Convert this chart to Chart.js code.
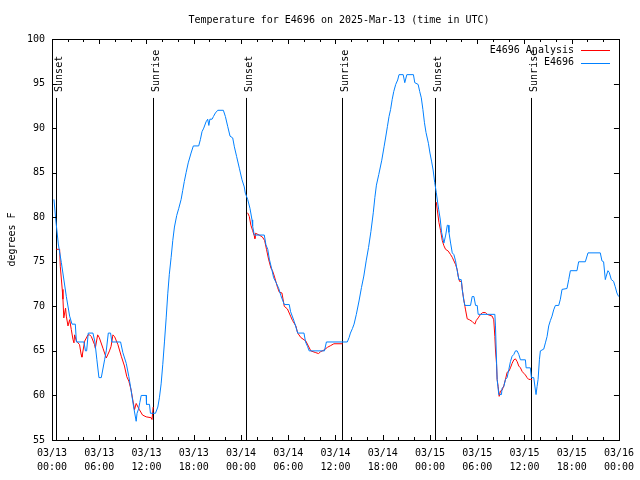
<!DOCTYPE html>
<html>
<head>
<meta charset="utf-8">
<script src="https://cdn.jsdelivr.net/npm/chart.js@4.4.0/dist/chart.umd.min.js"></script>
<style>
body { margin: 0; background: #ffffff; }
</style>
</head>
<body>
<canvas id="graph" width="640" height="480"></canvas>
<script>
// observed temperatures (E4696), hours after 03/13 00:00 UTC
const obsHours = [0.25,0.47,0.8,1.19,1.82,2.24,2.54,2.96,3.1,4.06,4.25,4.4,4.6,5.2,5.45,5.7,5.96,6.26,6.68,6.89,7.15,7.44,7.6,8.71,9.0,9.43,9.76,9.97,10.35,10.69,10.8,11.0,11.15,11.33,11.96,12.0,12.38,12.5,13.14,13.44,13.65,13.86,14.07,14.29,14.5,14.7,14.9,15.13,15.34,15.55,15.84,16.1,16.4,16.6,16.8,17.03,17.3,17.66,17.95,18.63,18.84,19.05,19.27,19.56,19.77,19.92,20.05,20.33,20.5,20.75,21.05,21.76,22.02,22.31,22.61,22.95,23.16,23.45,23.79,24.13,24.42,24.55,24.85,25.14,25.4,25.48,25.69,26.96,27.17,27.4,27.6,27.9,28.15,28.44,28.8,29.07,29.5,30.13,30.3,30.76,31.2,32.0,32.2,32.45,32.66,34.6,34.85,37.5,37.73,37.9,38.15,38.36,38.65,38.99,39.3,39.6,39.9,40.2,40.5,40.8,41.0,41.2,41.5,41.88,42.17,42.38,42.6,42.8,43.0,43.2,43.4,43.65,43.9,44.07,44.6,44.8,45.06,45.9,46.07,46.5,46.7,46.9,47.1,47.3,47.5,47.8,48.0,48.2,48.4,48.6,48.8,48.97,49.1,49.3,49.48,49.77,50.0,50.2,50.32,50.41,50.62,50.83,51.04,51.25,51.46,51.67,51.97,52.1,52.31,52.44,53.15,53.36,53.58,53.79,54.0,54.12,56.24,56.32,56.41,56.53,56.74,57.08,57.16,57.38,57.59,57.8,58.01,58.22,58.43,58.65,58.86,59.07,59.28,59.49,60.12,60.21,60.75,60.88,61.18,61.39,61.47,61.6,61.73,61.9,62.02,62.45,62.66,62.87,63.08,63.29,63.5,63.71,63.93,64.35,64.56,64.77,65.4,65.62,65.83,66.67,66.88,67.73,68.07,69.63,69.84,70.05,70.27,70.39,70.6,70.77,71.03,71.32,71.53,71.74,71.96];
const obsTemps = [82,79.8,77,74.9,71.1,68.9,68,68,66,66,65,65,67,67,66,64,62,62,64,65,67,67,66,66,64.8,63.6,62.1,61,58.8,57.1,58,58.5,59.2,60,60,59,59,58,58,58.7,59.8,61.3,63.5,66.1,68.7,71.4,73.6,75.5,77.4,78.9,80.2,81,82,83,84,85,86.1,87.2,88,88,88.7,89.6,90,90.7,91,90.3,91,91,91.3,91.7,92,92,91.3,90.2,89.1,88.9,87.9,86.8,85.5,84.2,83.4,82.7,82,81,79.7,79,78,78,76.9,76.4,75.3,74.2,73.2,72.7,72,71.2,70.2,70.2,69.4,68.3,67,67,66,65.5,65,65,66,66,66.5,67,67.5,68,69.1,70.6,72.1,73.4,75.1,76.6,78.4,80.5,82.2,83.6,84.8,86.4,87.9,89,90.2,91.3,92.1,93.2,94.1,94.9,95.4,96,96,95.1,96,96,95.1,94.9,94.1,93.4,92.1,90.6,89.5,88.3,87.2,86.3,85.3,83.9,82.8,81.7,80.9,79.8,78.3,77.1,78,79.1,79.1,78.3,77.1,76,75.8,75.1,74,73,73,71.9,70.6,70.1,70.1,71.1,71.1,70.1,70.1,69.1,69.1,67.8,65.1,61.8,60.1,60.1,60.8,61,61.8,62,62.9,63.8,64.4,64.6,65,65,64.6,64,64,63.1,63.1,62,62,60.6,60.1,61,61.8,64,65,65.2,65.9,66.6,67.8,68.4,68.9,69.6,70.1,70.1,70.8,71.9,72,73,74,74,75,75,76,76,75.1,75,73,73.4,74,73.8,73,72.8,72.2,71.5,71.1];

// analysis temperatures, null breaks between nights
const anaHours = [0.55,0.97,1.05,1.3,1.39,1.5,1.72,1.82,2.03,2.24,2.45,2.66,2.79,2.87,3.1,3.5,3.7,3.8,4.15,4.57,4.78,5.0,5.4,5.5,5.8,6.0,6.47,6.89,7.3,7.5,7.74,7.95,8.37,8.8,9.2,9.5,9.76,10.05,10.26,10.48,10.69,11.1,11.5,11.96,12.59,12.7,12.85,
  18,
  24.84,25.05,25.26,25.48,25.69,25.77,25.85,26.3,26.7,27.0,27.24,27.5,27.8,28.0,28.23,28.65,28.86,29.2,29.5,29.9,30.3,30.55,30.97,31.2,31.6,32.24,32.87,33.5,33.85,34.1,34.55,34.98,35.4,35.8,36.9,
  42,
  48.8,49.14,49.35,49.56,49.77,49.98,50.32,50.62,50.83,51.25,51.46,51.6,51.76,52.0,52.1,52.23,52.44,52.52,52.73,53.0,53.36,53.7,53.87,54.12,54.42,54.7,55.05,55.26,55.9,56.1,56.24,56.32,56.45,56.53,56.66,56.79,56.95,57.16,57.38,57.59,57.8,58.01,58.22,58.43,58.65,58.86,59.07,59.28,59.49,59.7,59.9,60.12,60.33,60.54,60.75,60.97];
const anaTemps = [76.4,76.4,74.5,71.9,70.8,68.7,69.8,68.9,67.8,68.5,67.4,66.3,65.9,66.8,66.1,65.7,64.6,64.3,66.1,66.8,66.8,66.6,65.7,65.3,66.8,66.5,65.3,64.2,65.0,65.5,66.8,66.6,65.7,64.4,63.3,62.1,61.6,60.6,59.5,58.4,59.1,58.4,57.8,57.6,57.5,57.3,58.7,
  null,
  80.5,80.1,79.1,78.5,77.9,77.6,78.2,78,77.8,77.4,76.4,75.3,74.3,74,73.4,72.1,71.6,71.5,70,69.7,68.9,68.4,67.8,67,66.5,66.1,65,64.8,64.7,64.9,65.1,65.4,65.6,65.8,65.8,
  null,
  81.7,79.4,78.5,77.4,76.8,76.4,76.2,75.8,75.5,74.7,74.1,73.3,72.8,72.8,71.9,71.1,70,69.6,68.6,68.5,68.3,68,68.4,68.7,69.1,69.3,69.3,69.1,68.9,68.5,66.6,65.1,63.6,61.8,61,59.9,60.5,60.6,61.1,61.8,62.6,62.7,63.1,63.6,64,64.1,63.8,63.3,63.1,62.7,62.5,62.3,62,61.8,61.8,61.8];

const sunHours = [0.55, 12.8, 24.6, 36.77, 48.67, 60.84];
const sunLabels = ["Sunset", "Sunrise", "Sunset", "Sunrise", "Sunset", "Sunrise"];
const dayLabels = ["03/13", "03/14", "03/15", "03/16"];

const FONT = "'DejaVu Sans Mono', monospace";
Chart.defaults.font.family = FONT;
Chart.defaults.font.size = 10;
Chart.defaults.color = "#000000";

const gnuplotFrame = {
    id: "gnuplotFrame",
    beforeDatasetsDraw(chart) {
        const ctx = chart.ctx, a = chart.chartArea, xs = chart.scales.x;
        ctx.save();
        ctx.strokeStyle = "#000000";
        ctx.lineWidth = 1;
        const lineTop = a.bottom - 0.853 * (a.bottom - a.top);
        sunHours.forEach((h, i) => {
            const px = Math.round(xs.getPixelForValue(h)) + 0.5;
            ctx.beginPath();
            ctx.moveTo(px, a.bottom);
            ctx.lineTo(px, lineTop);
            ctx.stroke();
            ctx.save();
            ctx.translate(px + 5, lineTop - 6);
            ctx.rotate(-Math.PI / 2);
            ctx.font = "10px " + FONT;
            ctx.fillStyle = "#000000";
            ctx.textAlign = "left";
            ctx.textBaseline = "alphabetic";
            ctx.fillText(sunLabels[i], 0, 0);
            ctx.restore();
        });
        ctx.restore();
    },
    afterDraw(chart) {
        const ctx = chart.ctx, a = chart.chartArea;
        const xs = chart.scales.x, ys = chart.scales.y;
        ctx.save();
        ctx.strokeStyle = "#000000";
        ctx.lineWidth = 1;
        // tics on all four sides, pointing inward
        ctx.beginPath();
        xs.ticks.forEach(t => {
            const px = Math.round(xs.getPixelForValue(t.value)) + 0.5;
            const len = Math.round(t.value) % 6 === 0 ? 5 : 3;
            ctx.moveTo(px, a.bottom); ctx.lineTo(px, a.bottom - len);
            ctx.moveTo(px, a.top); ctx.lineTo(px, a.top + len);
        });
        ys.ticks.forEach(t => {
            const py = Math.round(ys.getPixelForValue(t.value)) + 0.5;
            ctx.moveTo(a.left, py); ctx.lineTo(a.left + 5, py);
            ctx.moveTo(a.right, py); ctx.lineTo(a.right - 5, py);
        });
        ctx.stroke();
        ctx.strokeRect(Math.round(a.left) + 0.5, Math.round(a.top) + 0.5,
            Math.round(a.right - a.left), Math.round(a.bottom - a.top));

        // title
        ctx.font = "10px " + FONT;
        ctx.fillStyle = "#000000";
        ctx.textAlign = "center";
        ctx.textBaseline = "middle";
        ctx.fillText("Temperature for E4696 on 2025-Mar-13 (time in UTC)", 339, 20);

        // key
        const rows = [chart.data.datasets[0], chart.data.datasets[1]];
        rows.forEach((ds, i) => {
            const y = 50 + i * 12.7;
            ctx.textAlign = "right";
            ctx.fillText(ds.label, 574, y);
            ctx.strokeStyle = ds.borderColor;
            ctx.beginPath();
            ctx.moveTo(581, Math.round(y) + 0.5);
            ctx.lineTo(610, Math.round(y) + 0.5);
            ctx.stroke();
        });
        ctx.restore();
    }
};

const graph = new Chart(document.getElementById("graph"), {
    type: "line",
    data: {
        datasets: [{
            label: "E4696 Analysis",
            data: anaHours.map((h, i) => ({ x: h, y: anaTemps[i] })),
            borderColor: "#ff0000",
            backgroundColor: "#ff0000",
            borderWidth: 1,
            pointRadius: 0,
            spanGaps: false,
            order: 1
        },
        {
            label: "E4696",
            data: obsHours.map((h, i) => ({ x: h, y: obsTemps[i] })),
            borderColor: "#0080ff",
            backgroundColor: "#0080ff",
            borderWidth: 1,
            pointRadius: 0,
            order: 0
        }]
    },
    options: {
        responsive: false,
        animation: false,
        layout: { padding: { top: 39, right: 19, left: 0, bottom: 0 } },
        scales: {
            x: {
                type: "linear",
                min: 0,
                max: 72,
                grid: { display: false, drawTicks: false },
                border: { display: false },
                afterFit: function (scale) { scale.height = 40; },
                ticks: {
                    stepSize: 2,
                    autoSkip: false,
                    maxRotation: 0,
                    padding: 6,
                    font: { size: 10, lineHeight: 1.4 },
                    callback: function (value) {
                        const v = Math.round(value);
                        if (v % 6 !== 0) return "";
                        const hh = v % 24;
                        return [dayLabels[Math.floor(v / 24)], String(hh).padStart(2, "0") + ":00"];
                    }
                }
            },
            y: {
                min: 55,
                max: 100,
                grid: { display: false, drawTicks: false },
                border: { display: false },
                afterFit: function (scale) { scale.width = 52; },
                title: {
                    display: true,
                    text: "degrees F",
                    padding: { top: 6, bottom: 0 },
                    font: { size: 10 }
                },
                ticks: {
                    stepSize: 5,
                    padding: 7
                }
            }
        },
        plugins: {
            legend: { display: false },
            title: { display: false },
            tooltip: { enabled: false }
        }
    },
    plugins: [gnuplotFrame]
});
</script>
</body>
</html>
